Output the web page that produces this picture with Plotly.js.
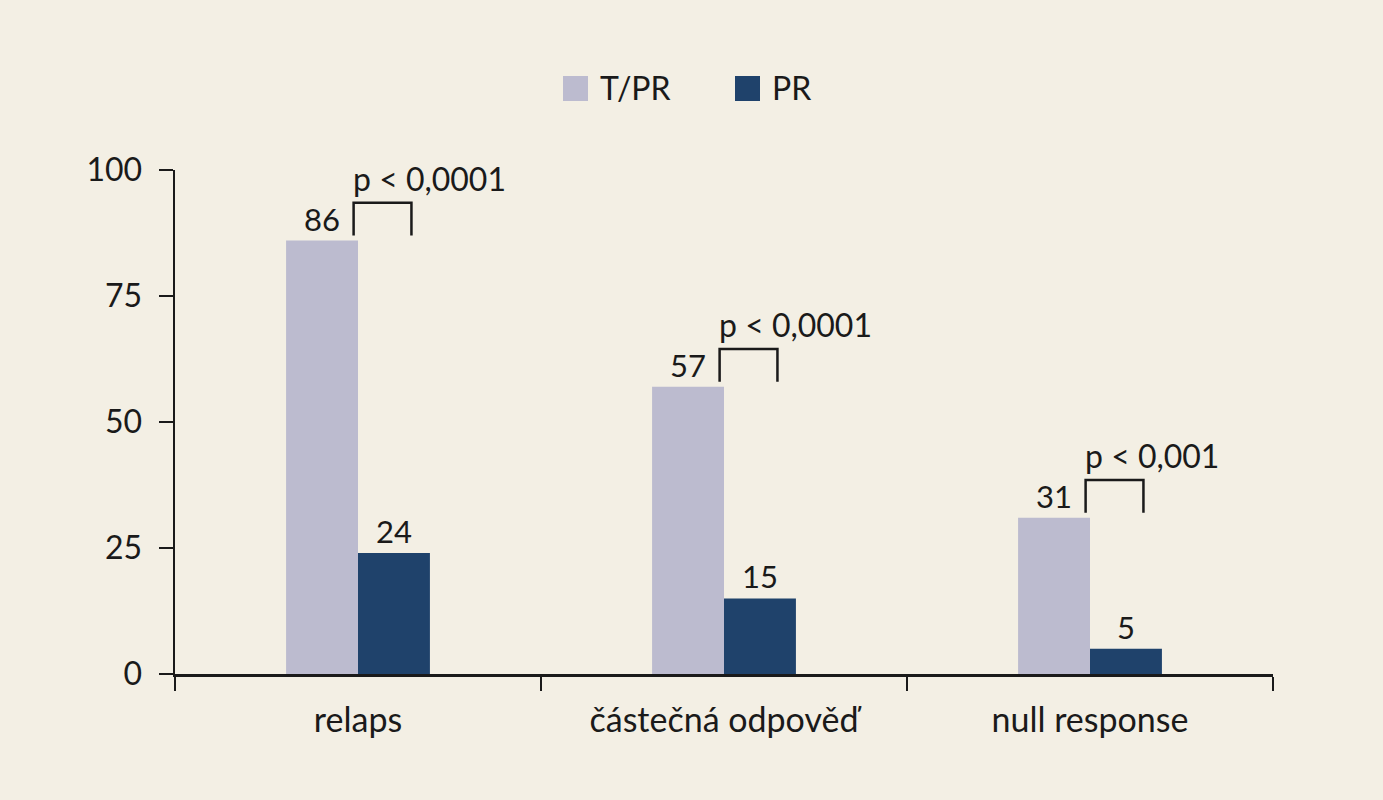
<!DOCTYPE html>
<html>
<head>
<meta charset="utf-8">
<script src="https://cdn.plot.ly/plotly-3.0.1.min.js"></script>
<style>
  html, body { margin: 0; padding: 0; background: #f3efe4; }
  #graphDiv { width: 1383px; height: 800px; }
</style>
</head>
<body>
<div id="graphDiv"></div>
<script>
'use strict';

const categories = ["relaps", "částečná odpověď", "null response"];
const seriesNames = ["T/PR", "PR"];
const tprValues = [86, 57, 31];
const prValues = [24, 15, 5];
const pLabels = ["p < 0,0001", "p < 0,0001", "p < 0,001"];
const seriesColors = ["#bcbbcf", "#1f426b"];

const fontFamily = "Lato, 'Open Sans', sans-serif";
const textColor = "#1a1a1a";
const bg = "#f3efe4";

function bracketShapes() {
  let shapes = [];
  for (let i = 0; i < categories.length; i++) {
    let x0 = i - 0.012, x1 = i + 0.146;
    let yLow = tprValues[i] + 1, yTop = tprValues[i] + 7.5;
    shapes.push({
      type: "path", xref: "x", yref: "y",
      path: "M" + x0 + "," + yLow + " L" + x0 + "," + yTop + " L" + x1 + "," + yTop + " L" + x1 + "," + yLow,
      line: { color: textColor, width: 2.5 }
    });
  }
  return shapes;
}

function pAnnotations() {
  let anns = [];
  for (let i = 0; i < categories.length; i++) {
    anns.push({
      x: i - 0.018, y: tprValues[i] + 7.5, xref: "x", yref: "y",
      text: pLabels[i], showarrow: false, xanchor: "left", yanchor: "bottom",
      yshift: 3, font: { family: fontFamily, size: 32, color: textColor }
    });
  }
  return anns;
}

// hand-drawn legend (big squares like the original)
function legendItems() {
  let shapes = [], anns = [];
  let plotW = 1383 - 175 - 110, plotH = 800 - 170 - 126;
  let startsPx = [563, 735];
  for (let k = 0; k < seriesNames.length; k++) {
    let px = startsPx[k];
    shapes.push({
      type: "rect", xref: "paper", yref: "paper",
      x0: (px - 175) / plotW, x1: (px + 25 - 175) / plotW,
      y0: (674 - 101) / plotH, y1: (674 - 76) / plotH,
      fillcolor: seriesColors[k], line: { width: 0 }
    });
    anns.push({
      xref: "paper", yref: "paper", x: (px + 35 - 175) / plotW, y: (674 - 88) / plotH,
      text: seriesNames[k], showarrow: false, xanchor: "left", yanchor: "middle",
      font: { family: fontFamily, size: 32, color: textColor }
    });
  }
  return { shapes, anns };
}

const traces = [
  {
    type: "bar", name: seriesNames[0], x: categories, y: tprValues,
    marker: { color: seriesColors[0] }, text: tprValues.map(String),
    textposition: "outside", cliponaxis: false,
    textfont: { family: fontFamily, size: 31, color: textColor }, hoverinfo: "none"
  },
  {
    type: "bar", name: seriesNames[1], x: categories, y: prValues,
    marker: { color: seriesColors[1] }, text: prValues.map(String),
    textposition: "outside", cliponaxis: false,
    textfont: { family: fontFamily, size: 31, color: textColor }, hoverinfo: "none"
  }
];

const leg = legendItems();

const layout = {
  width: 1383, height: 800,
  paper_bgcolor: bg, plot_bgcolor: bg,
  margin: { l: 175, r: 110, t: 170, b: 126 },
  barmode: "group", bargap: 0.607, bargroupgap: 0,
  showlegend: false,
  font: { family: fontFamily, size: 32, color: textColor },
  xaxis: {
    type: "category", range: [-0.5, 2.5],
    showline: true, linecolor: textColor, linewidth: 2.5,
    ticks: "outside", tickson: "boundaries", ticklen: 14, tickwidth: 2.5, tickcolor: textColor,
    ticklabelstandoff: 15,
    showgrid: false, zeroline: false,
    tickfont: { family: fontFamily, size: 34, color: textColor }
  },
  yaxis: {
    range: [0, 100], tickvals: [0, 25, 50, 75, 100],
    showline: true, linecolor: textColor, linewidth: 2.5,
    ticks: "outside", ticklen: 14, tickwidth: 2.5, tickcolor: textColor,
    ticklabelstandoff: 10,
    showgrid: false, zeroline: false,
    tickfont: { family: fontFamily, size: 32, color: textColor }
  },
  shapes: bracketShapes().concat(leg.shapes),
  annotations: pAnnotations().concat(leg.anns)
};

Plotly.newPlot(graphDiv, traces, layout, { staticPlot: true });
</script>
</body>
</html>
